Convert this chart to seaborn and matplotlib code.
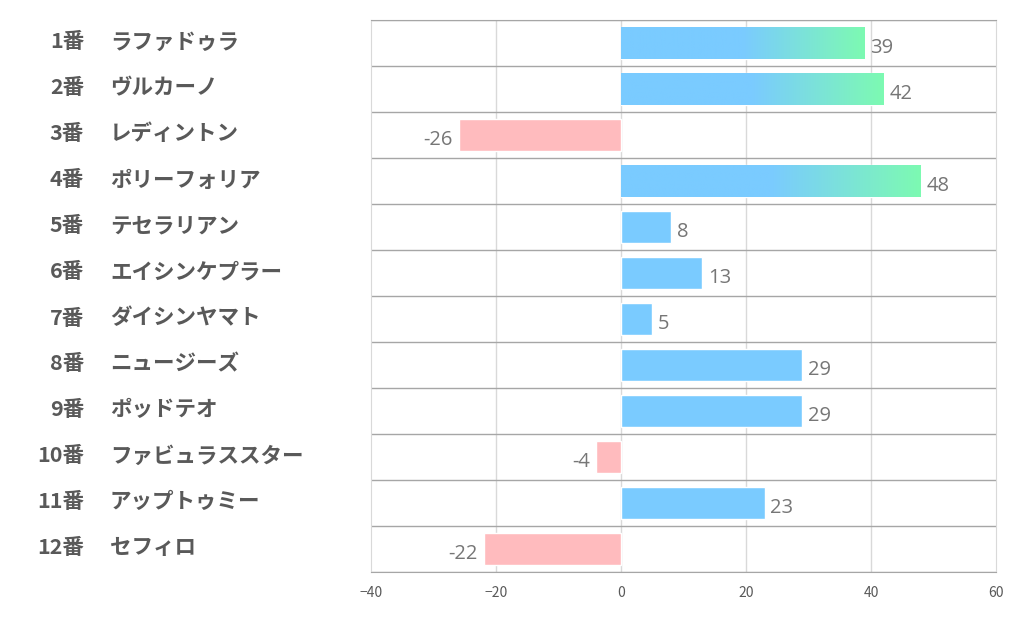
import matplotlib
matplotlib.use("Agg")
import matplotlib.pyplot as plt
import numpy as np
import pandas as pd
import seaborn as sns
from matplotlib.colors import LinearSegmentedColormap

numbers = ["1番", "2番", "3番", "4番", "5番", "6番", "7番", "8番", "9番", "10番", "11番", "12番"]
names = ["ラファドゥラ", "ヴルカーノ", "レディントン", "ポリーフォリア", "テセラリアン", "エイシンケプラー",
         "ダイシンヤマト", "ニュージーズ", "ポッドテオ", "ファビュラススター", "アップトゥミー", "セフィロ"]
values = [39, 42, -26, 48, 8, 13, 5, 29, 29, -4, 23, -22]

BLUE = "#7ACBFF"
GREEN = "#7DFAB2"
PINK = "#FFBBBE"
JP = ["Noto Sans CJK JP", "DejaVu Sans"]

sns.set_style("white")
plt.rcParams["font.family"] = JP

df = pd.DataFrame({"label": [f"{n} {m}" for n, m in zip(numbers, names)], "value": values})
colors = [BLUE if v >= 0 else PINK for v in values]

fig = plt.figure(figsize=(10.22, 6.26), dpi=100)
ax = fig.add_axes([371 / 1022, 1 - 572 / 626, (996 - 371) / 1022, (572 - 20) / 626])
sns.barplot(data=df, x="value", y="label", hue="label", palette=colors, legend=False,
            width=0.7, ax=ax, saturation=1, zorder=3)
ax.set_xlim(-40, 60)
ax.set_ylim(len(values) - 0.5, -0.5)
ax.set_xticks(range(-40, 61, 20))
ax.tick_params(axis="x", labelsize=10, colors="#595959", length=0, pad=10)
ax.set_yticks([])
ax.set_xlabel("")
ax.set_ylabel("")

# gridlines: light vertical, darker row separators
for x in range(-20, 60, 20):
    ax.axvline(x, color="#d9d9d9", lw=1, zorder=1)
for i in range(len(values) + 1):
    ax.axhline(i - 0.5, color="#a6a6a6", lw=1, zorder=2)
for s in ["left", "right"]:
    ax.spines[s].set_color("#d9d9d9")
for s in ["top", "bottom"]:
    ax.spines[s].set_color("#a6a6a6")

# gradient on long bars (second half of the bar fades into green)
cmap = LinearSegmentedColormap.from_list("bg", [BLUE, BLUE, GREEN])
grad = np.linspace(0, 1, 256).reshape(1, -1)
for bar, v in zip(ax.patches, values):
    if v >= 30:
        y0, h = bar.get_y(), bar.get_height()
        im = ax.imshow(grad, cmap=cmap, aspect="auto", extent=[0, v, y0 + h, y0], zorder=3.5)
        im.set_clip_path(bar)
ax.set_xlim(-40, 60)
ax.set_ylim(len(values) - 0.5, -0.5)

for i, v in enumerate(values):
    if v >= 0:
        ax.text(v + 0.9, i + 0.1, str(v), ha="left", va="center", fontsize=14.5,
                color="#767676", family="Open Sans", zorder=5)
    else:
        ax.text(v - 0.9, i + 0.1, str(v), ha="right", va="center", fontsize=14.5,
                color="#767676", family="Open Sans", zorder=5)

for i, (n, m) in enumerate(zip(numbers, names)):
    yf = 1 - (20 + 46 * i + 22) / 626
    fig.text(84 / 1022, yf, n, ha="right", va="center", fontsize=15.5, fontweight="bold", color="#595959")
    fig.text(110 / 1022, yf, m, ha="left", va="center", fontsize=15.5, fontweight="bold", color="#595959")

fig.savefig("out.png", dpi=100)
